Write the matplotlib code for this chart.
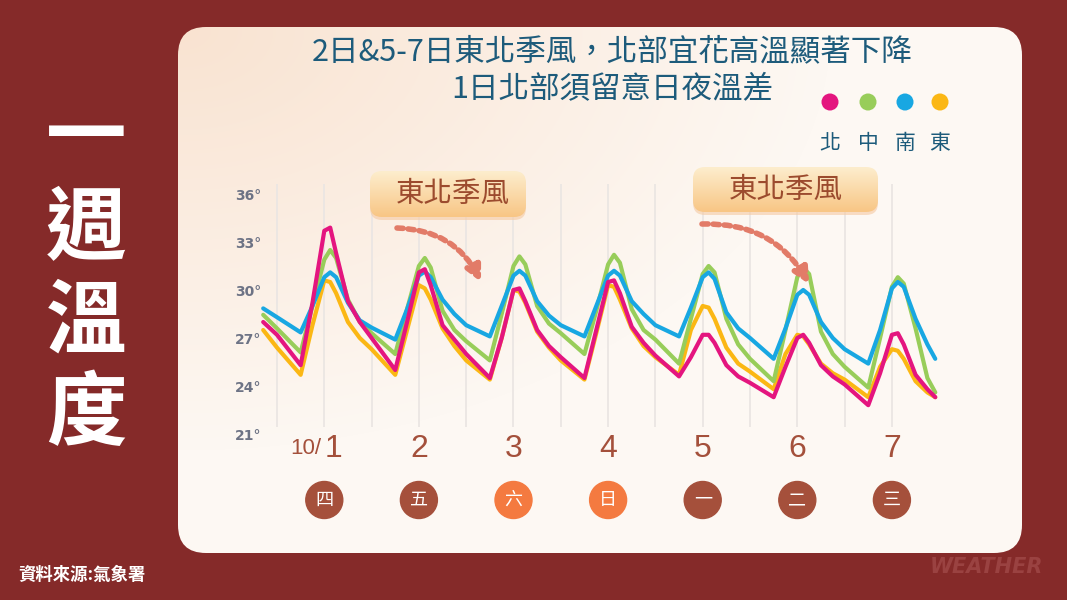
import numpy as np
import matplotlib
matplotlib.use("Agg")
import matplotlib.pyplot as plt
from matplotlib.patches import FancyBboxPatch, Ellipse
from matplotlib.colors import to_rgb

plt.rcParams['font.family'] = ['Noto Sans CJK TC', 'DejaVu Sans']

# 時間(小時), 以 10/1 00:00 為 0
hours = [-3.5,
         0, 6, 9, 12, 13.5, 15, 18, 21,
         24, 30, 33, 36, 37.5, 39, 42, 45,
         48, 54, 57, 60, 61.5, 63, 66, 69,
         72, 78, 81, 84, 85.5, 87, 90, 93,
         96, 102, 105, 108, 109.5, 111, 114, 117,
         120, 126, 129, 132, 133.5, 135, 138, 141,
         144, 150, 153, 156, 157.5, 159, 162, 165,
         167]

# 各區溫度 (°C)
north = [28.0,
         27.2, 25.3, 29.2, 33.7, 33.9, 32.3, 29.3, 28.0,
         27.0, 25.0, 28.0, 31.1, 31.3, 30.3, 27.8, 26.9,
         26.0, 24.5, 27.0, 30.0, 30.1, 29.3, 27.5, 26.5,
         25.8, 24.5, 27.5, 30.5, 30.6, 29.8, 27.7, 26.7,
         25.9, 24.6, 25.8, 27.2, 27.2, 26.7, 25.3, 24.6,
         24.2, 23.3, 25.2, 27.0, 27.2, 26.7, 25.3, 24.6,
         24.1, 22.8, 24.8, 27.2, 27.3, 26.6, 24.7, 23.8,
         23.3]
central = [28.45,
           27.6, 26.1, 29.0, 31.9, 32.5, 32.0, 29.4, 28.0,
           27.3, 26.0, 28.8, 31.5, 32.0, 31.4, 28.7, 27.5,
           26.8, 25.6, 28.5, 31.5, 32.1, 31.6, 29.0, 27.9,
           27.3, 26.0, 28.7, 31.6, 32.2, 31.7, 28.8, 27.5,
           26.9, 25.4, 28.2, 31.0, 31.5, 31.1, 28.2, 26.6,
           25.7, 24.3, 27.5, 30.8, 31.4, 31.0, 27.4, 26.0,
           25.2, 23.9, 27.0, 30.2, 30.8, 30.4, 27.6, 24.5,
           23.6]
south = [28.85,
         28.3, 27.35, 29.0, 30.8, 31.1, 30.8, 29.2, 28.1,
         27.65, 26.9, 28.8, 30.9, 31.15, 30.8, 29.4, 28.5,
         27.8, 27.1, 29.0, 30.9, 31.2, 30.9, 29.3, 28.4,
         27.8, 27.1, 29.0, 30.9, 31.2, 30.9, 29.3, 28.5,
         27.8, 27.1, 28.9, 30.8, 31.1, 30.7, 28.6, 27.6,
         27.0, 25.7, 27.6, 29.7, 30.0, 29.7, 28.0, 27.0,
         26.3, 25.4, 27.5, 30.1, 30.5, 30.2, 28.2, 26.6,
         25.7]
east = [27.5,
        26.4, 24.7, 27.8, 30.6, 30.5, 29.8, 28.0, 27.0,
        26.3, 24.7, 27.5, 30.3, 30.1, 29.4, 27.6, 26.5,
        25.6, 24.4, 27.0, 30.0, 29.9, 29.2, 27.4, 26.4,
        25.6, 24.4, 27.3, 30.3, 30.2, 29.4, 27.6, 26.5,
        25.8, 24.7, 27.5, 29.0, 28.9, 28.2, 26.4, 25.4,
        24.9, 23.8, 26.0, 27.2, 27.1, 26.6, 25.4, 24.8,
        24.4, 23.3, 25.2, 26.3, 26.2, 25.7, 24.3, 23.6,
        23.3]

series_names = ['北', '中', '南', '東']
series_colors = ['#e4157f', '#98cd5a', '#18a7e2', '#fbb714']

day_nums = ['1', '2', '3', '4', '5', '6', '7']
weekdays = ['四', '五', '六', '日', '一', '二', '三']
weekday_colors = ['#a5503b', '#a5503b', '#f47a40', '#f47a40', '#a5503b', '#a5503b', '#a5503b']
y_ticks = [21, 24, 27, 30, 33, 36]

title1 = '2日&5-7日東北季風，北部宜花高溫顯著下降'
title2 = '1日北部須留意日夜溫差'

W, H = 1067, 600
fig = plt.figure(figsize=(W / 100, H / 100), dpi=100)
fig.patch.set_facecolor('#852a29')

# 背景層
bg = fig.add_axes([0, 0, 1, 1])
bg.set_xlim(0, W)
bg.set_ylim(H, 0)
bg.axis('off')

yy, xx = np.mgrid[0:H, 0:W]
warm = np.clip(1 - np.hypot((xx - 180) / 650, (yy - 30) / 420), 0, 1)[..., None]
img = np.array(to_rgb('#fdf8f3')) * (1 - warm) + np.array(to_rgb('#f9e3d1')) * warm
im = bg.imshow(img, extent=(0, W, H, 0), zorder=1, aspect='auto')
panel = FancyBboxPatch((178 + 28, 27 + 28), 844 - 56, 526 - 56,
                       boxstyle='round,pad=28', fc='none', ec='none')
bg.add_patch(panel)
im.set_clip_path(panel)

bg.text(612, 52, title1, fontsize=22, color='#1d5b7b', ha='center', va='center', zorder=3)
bg.text(612, 90, title2, fontsize=22, color='#1d5b7b', ha='center', va='center', zorder=3)

legend_x = [830, 868, 905, 940]
bg.scatter(legend_x, [102] * 4, s=150, c=series_colors, zorder=3, linewidths=0)
for x, name in zip(legend_x, series_names):
    bg.text(x, 143, name, fontsize=15, color='#1d5b7b', ha='center', va='center', zorder=3)

for y, ch in zip([138, 231, 323, 416], '一週溫度'):
    bg.text(86, y, ch, fontsize=58, color='white', weight='bold', ha='center', va='center')

bg.text(18, 575, '資料來源:氣象署', fontsize=12.5, color='white', weight='bold', va='center')
bg.text(1043, 567, 'WEATHER', fontsize=15, color='#9a4241', weight='bold', style='italic',
        ha='right', va='center', family='DejaVu Sans')

# 折線圖
ax = fig.add_axes([263 / W, (H - 434) / H, (940 - 263) / W, (434 - 184.4) / H])
ax.set_xlim(-3.55, 168.2)
ax.set_ylim(21, 36.6)
ax.patch.set_alpha(0)
for s in ax.spines.values():
    s.set_visible(False)
ax.vlines(range(0, 157, 12), 21.45, 36.6, color='#ebe6e3', lw=1.3, zorder=0)

for vals, c in zip([east, central, south, north],
                   [series_colors[3], series_colors[1], series_colors[2], series_colors[0]]):
    ax.plot(hours, vals, color=c, lw=3.0, solid_joinstyle='round', solid_capstyle='round',
            clip_on=False)

ax.set_xticks([])
ax.set_yticks(y_ticks)
ax.set_yticklabels([f'{v}°' for v in y_ticks], fontweight='bold', family='DejaVu Sans')
ax.tick_params(axis='y', length=0, pad=1, labelcolor='#6d7385', labelsize=10)

num_font = ['Liberation Sans Narrow', 'Liberation Sans', 'DejaVu Sans']
for i, (n, wd, wc) in enumerate(zip(day_nums, weekdays, weekday_colors)):
    x = 12 + 24 * i
    if i == 0:
        ax.text(x, 20.06, n, fontsize=23, color='#a4503b', ha='left', va='center',
                family=num_font, clip_on=False)
        ax.text(x - 0.8, 20.1, '10/', fontsize=16, color='#a4503b', ha='right', va='center',
                family=num_font, clip_on=False)
    else:
        ax.text(x, 20.06, n, fontsize=23, color='#a4503b', ha='center', va='center',
                family=num_font, clip_on=False)
    ax.add_patch(Ellipse((x, 16.875), 37 / 3.942, 37 / 16, color=wc, clip_on=False))
    ax.text(x, 16.875, wd, fontsize=13, color='white', ha='center', va='center', clip_on=False)

# 前景: 東北季風標籤與箭頭
fg = fig.add_axes([0, 0, 1, 1])
fg.set_xlim(0, W)
fg.set_ylim(H, 0)
fg.axis('off')
fg.patch.set_alpha(0)

grad = np.linspace(0, 1, 50)[:, None, None]
grad_img = np.array(to_rgb('#fdedcd')) * (1 - grad) + np.array(to_rgb('#f8c685')) * grad


def callout(x0, y0, x1, y1, tx, ty):
    r = 12
    shadow = FancyBboxPatch((x0 + r, y0 + r + 3), x1 - x0 - 2 * r, y1 - y0 - 2 * r,
                            boxstyle=f'round,pad={r}', fc='#f5c9a2', ec='none', alpha=0.6)
    fg.add_patch(shadow)
    box = FancyBboxPatch((x0 + r, y0 + r), x1 - x0 - 2 * r, y1 - y0 - 2 * r,
                         boxstyle=f'round,pad={r}', fc='none', ec='none')
    fg.add_patch(box)
    g = fg.imshow(grad_img, extent=(x0, x1, y1, y0), aspect='auto', zorder=2)
    g.set_clip_path(box)
    fg.text(tx, ty, '東北季風', fontsize=20.5, color='#9c4b2e', ha='center', va='center', zorder=3)


callout(370, 171, 526, 217, 453, 194)
callout(693, 167, 878, 212, 786, 190)
fg.set_xlim(0, W)
fg.set_ylim(H, 0)

arrow_kw = dict(arrowstyle='-|>,head_length=0.9,head_width=0.45', color='#e27b68', lw=4,
                linestyle=(0, (1.1, 0.9)), connectionstyle='arc3,rad=-0.3', shrinkA=0, shrinkB=0)
fg.annotate('', xy=(481, 282), xytext=(397, 228), arrowprops=arrow_kw)
fg.annotate('', xy=(809, 284), xytext=(702, 224), arrowprops=arrow_kw)

fig.savefig('out.png', dpi=100, facecolor=fig.get_facecolor())
